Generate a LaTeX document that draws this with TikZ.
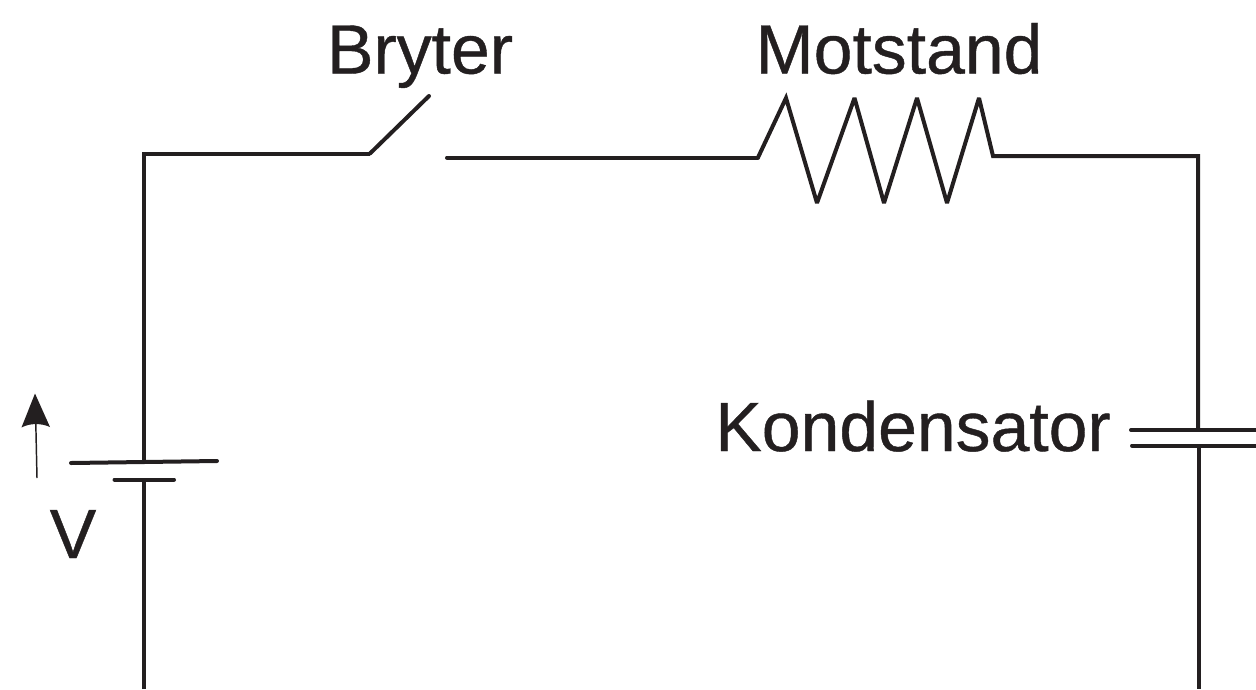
\documentclass[tikz,border=0pt]{standalone}
\usepackage{fontspec}
\setmainfont{Liberation Sans}[BoldFont={Liberation Sans},BoldFeatures={FakeBold=0.6}]
\definecolor{ink}{HTML}{231F20}
\tikzset{
  wire/.style={draw=ink,line width=3pt,line join=miter,miter limit=3},
  plate/.style={draw=ink,line width=3pt,line cap=round},
  lbl/.style={text=ink,font=\fontsize{52.3}{60}\selectfont\bfseries,inner sep=0pt,anchor=base}
}
\begin{document}
\begin{tikzpicture}[x=0.75pt,y=-0.75pt]
\useasboundingbox (0,0) rectangle (1256,689);
% junction points
\coordinate (batTop) at (144,462);
\coordinate (batBot) at (144,479.5);
\coordinate (capTop) at (1198,430);
\coordinate (capBot) at (1198.5,445.5);
\coordinate (swHinge) at (370,153.5);
\coordinate (swTip) at (429,96);
\coordinate (swContact) at (447,157.5);
\coordinate (resL) at (758,157.5);
\coordinate (resR) at (993,156);
% wires
\draw[wire] (144,689) -- (batBot);
\draw[wire] (batTop) -- (144,153.5) -- (swHinge);
\draw[plate] (swHinge) -- (swTip);
\draw[plate] (swContact) -- (resL);
\draw[wire] (resL) -- (786,98) -- (817,203) -- (854.5,98) -- (884,203) -- (917,98) -- (947,203) -- (979,98) -- (resR) -- (1198,156) -- (capTop);
\draw[wire] (capBot) -- (1198.5,689);
% capacitor plates
\coordinate (capTopL) at (1131,430);
\coordinate (capBotL) at (1132,445.5);
\draw[plate] (capTopL) -- (1258,430);
\draw[plate] (capBotL) -- (1258,445.5);
% battery plates
\coordinate (batLongL) at (71,463);
\coordinate (batLongR) at (217,461);
\coordinate (batShortL) at (114.5,479.5);
\coordinate (batShortR) at (174,479.5);
\draw[plate] (batLongL) -- (batLongR);
\draw[plate] (batShortL) -- (batShortR);
% voltage arrow
\coordinate (arrTail) at (37,478);
\coordinate (arrNeck) at (35.8,423);
\draw[draw=ink,line width=1.1pt] (arrTail) -- (arrNeck);
\fill[ink] (35,393.5) -- (50,427) .. controls (41,423) and (30,423) .. (21.5,427.5) -- cycle;
% labels
\node[lbl] (bryter) at (420,73.5) {Bryter};
\node[lbl] (motstand) at (899,73.5) {Motstand};
\node[lbl] (kondensator) at (913,451) {Kondensator};
\node[lbl] (volt) at (73,558) {V};
\end{tikzpicture}
\end{document}
